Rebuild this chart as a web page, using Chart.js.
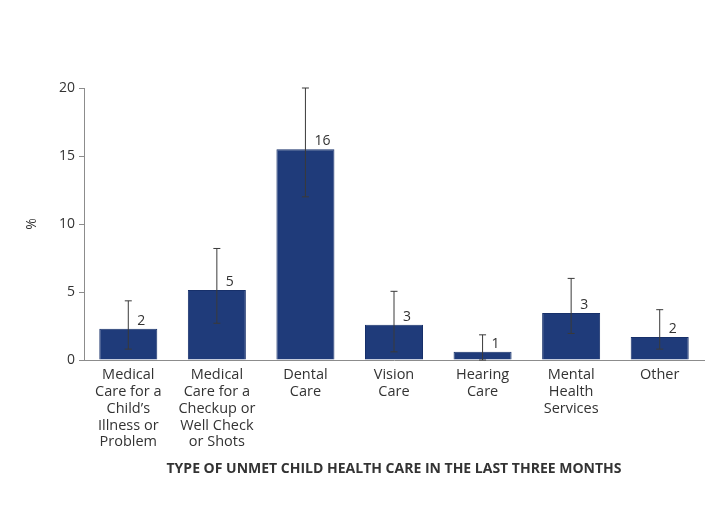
<!DOCTYPE html>
<html lang="en">
  <head>
    <meta charset="UTF-8" />
    <title>Unmet Child Health Care</title>
    <script src="https://cdn.jsdelivr.net/npm/chart.js"></script>
    <style>
      * {
        margin: 0;
        padding: 0;
        box-sizing: border-box;
      }

      body {
        background: #ffffff;
        width: 713px;
        height: 507px;
        overflow: hidden;
      }
    </style>
  </head>
  <body>
    <canvas id="careChart" width="713" height="507"></canvas>

    <script>
      const categories = [
        ["Medical", "Care for a", "Child\u2019s", "Illness or", "Problem"],
        ["Medical", "Care for a", "Checkup or", "Well Check", "or Shots"],
        ["Dental", "Care"],
        ["Vision", "Care"],
        ["Hearing", "Care"],
        ["Mental", "Health", "Services"],
        ["Other"],
      ];
      const percentValues = [2.3, 5.15, 15.5, 2.6, 0.6, 3.45, 1.7];
      const errorLow = [0.8, 2.7, 12.0, 0.6, 0, 1.95, 0.8];
      const errorHigh = [4.35, 8.2, 20.0, 5.05, 1.85, 6.0, 3.7];
      const valueLabels = ["2", "5", "16", "3", "1", "3", "2"];
      const yTicks = [0, 5, 10, 15, 20];

      const textColor = "#333333";
      const fontFamily = "'Open Sans', 'Noto Sans', sans-serif";

      // error bars + rounded value labels, drawn through the scales
      const errorBarPlugin = {
        id: "errorBars",
        afterDatasetsDraw(chart) {
          const ctx = chart.ctx;
          const y = chart.scales.y;
          const meta = chart.getDatasetMeta(0);
          ctx.save();
          meta.data.forEach((bar, i) => {
            const x = bar.x;
            const yHigh = y.getPixelForValue(errorHigh[i]);
            const yLow = y.getPixelForValue(errorLow[i]);
            ctx.strokeStyle = "#3a3a3a";
            ctx.lineWidth = 1;
            ctx.beginPath();
            ctx.moveTo(x, yHigh);
            ctx.lineTo(x, yLow);
            ctx.moveTo(x - 3.5, yHigh);
            ctx.lineTo(x + 3.5, yHigh);
            ctx.moveTo(x - 3.5, yLow);
            ctx.lineTo(x + 3.5, yLow);
            ctx.stroke();

            ctx.fillStyle = textColor;
            ctx.font = "14px " + fontFamily;
            ctx.textAlign = "left";
            ctx.textBaseline = "bottom";
            ctx.fillText(valueLabels[i], x + 9, bar.y - 1);
          });
          ctx.restore();
        },
      };

      new Chart(document.getElementById("careChart"), {
        type: "bar",
        data: {
          labels: categories,
          datasets: [
            {
              data: percentValues,
              backgroundColor: "#1f3b7a",
              borderColor: "#17306a",
              borderWidth: 1,
              categoryPercentage: 1,
              barPercentage: 0.655,
            },
          ],
        },
        options: {
          responsive: false,
          animation: false,
          layout: {
            padding: { top: 88, left: 0, right: 9, bottom: 0 },
          },
          plugins: {
            legend: { display: false },
            tooltip: { enabled: false },
          },
          scales: {
            x: {
              afterFit: (scale) => {
                scale.height = 147;
              },
              grid: { display: false },
              border: { display: true, color: "#8c8c8c", width: 1 },
              ticks: {
                color: textColor,
                font: { family: fontFamily, size: 14.5, lineHeight: 1.17 },
                padding: -2,
                maxRotation: 0,
                autoSkip: false,
              },
              title: {
                display: true,
                text: "TYPE OF UNMET CHILD HEALTH CARE IN THE LAST THREE MONTHS",
                color: textColor,
                font: { family: fontFamily, size: 14, weight: "bold" },
                padding: { top: 0, bottom: 30 },
              },
            },
            y: {
              min: 0,
              max: 20,
              afterFit: (scale) => {
                scale.width = 84;
              },
              afterBuildTicks: (scale) => {
                scale.ticks = yTicks.map((v) => ({ value: v }));
              },
              grid: {
                drawOnChartArea: false,
                drawTicks: true,
                tickLength: 5,
                color: "#8c8c8c",
              },
              border: { display: true, color: "#8c8c8c", width: 1 },
              ticks: {
                color: textColor,
                font: { family: fontFamily, size: 14 },
                padding: 4,
              },
              title: {
                display: true,
                text: "%",
                color: textColor,
                font: { family: fontFamily, size: 14 },
                padding: { top: 24, bottom: 0 },
              },
            },
          },
        },
        plugins: [errorBarPlugin],
      });
    </script>
  </body>
</html>
